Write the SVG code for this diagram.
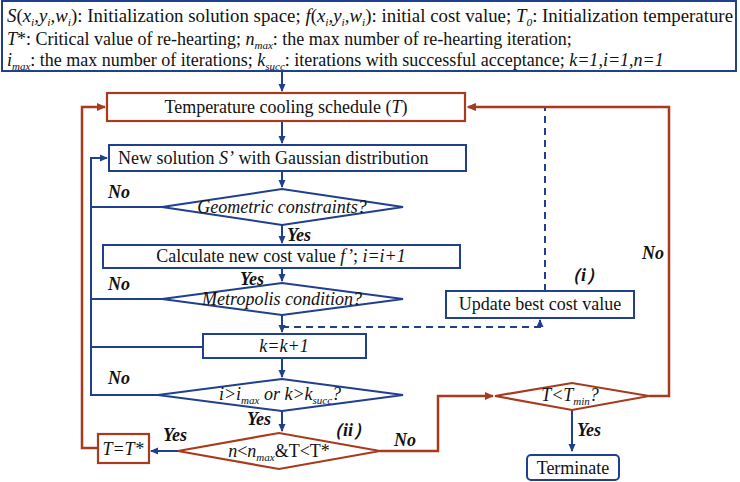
<svg xmlns="http://www.w3.org/2000/svg" width="740" height="482" viewBox="0 0 740 482">
<style>
.b{fill:#fff;stroke:#1f3f8f;stroke-width:2}
.r{fill:#fff;stroke:#a83a1e;stroke-width:2.2}
.lb{fill:none;stroke:#1f3f8f;stroke-width:2}
.lr{fill:none;stroke:#a83a1e;stroke-width:2.5}
.d{stroke-dasharray:7,5}
text{font-family:'Liberation Serif','Times New Roman','DejaVu Serif',serif;font-size:18px;fill:#111}
.c{text-anchor:middle}
.i{font-style:italic}
.lab{font-weight:bold;font-style:italic}
</style>
<defs>
<marker id="ab" markerWidth="8" markerHeight="8" refX="7" refY="4" orient="auto" markerUnits="userSpaceOnUse"><path d="M0,0.5L8,4L0,7.5z" fill="#1f3f8f"/></marker>
<marker id="ar" markerWidth="9" markerHeight="9" refX="8" refY="4.5" orient="auto" markerUnits="userSpaceOnUse"><path d="M0,0.5L9,4.5L0,8.5z" fill="#a83a1e"/></marker>
</defs>
<g id="connectors">
<path class="lb" d="M282,72V91" marker-end="url(#ab)"/>
<path class="lb" d="M282,121V143" marker-end="url(#ab)"/>
<path class="lb" d="M282,171V187" marker-end="url(#ab)"/>
<path class="lb" d="M282,225V243" marker-end="url(#ab)"/>
<path class="lb" d="M282,268V281" marker-end="url(#ab)"/>
<path class="lb" d="M282,315V332" marker-end="url(#ab)"/>
<path class="lb" d="M282,358V377" marker-end="url(#ab)"/>
<path class="lb" d="M282,411V431" marker-end="url(#ab)"/>
<path class="lb" d="M162,207H91M162,299H91M203,347H91M158,395H91V158H107" marker-end="url(#ab)"/>
<path class="lb d" d="M282,327H540V320" marker-end="url(#ab)"/>
<path class="lb d" d="M545,291V107H468" marker-end="url(#ab)"/>
<path class="lb" d="M178,451H151" marker-end="url(#ab)"/>
<path class="lr" d="M98,448H82V107H105" marker-end="url(#ar)"/>
<path class="lr" d="M380,451H438V396H493" marker-end="url(#ar)"/>
<path class="lr" d="M649,396H669V107H468" marker-end="url(#ar)"/>
<path class="lb" d="M572,410V451" marker-end="url(#ab)"/>
</g>
<g id="header"><rect class="b" x="2" y="1" width="734" height="70"/>
<text x="7" y="22" textLength="726" lengthAdjust="spacingAndGlyphs"><tspan class="i">S</tspan>(<tspan class="i">x<tspan font-size="11" dy="4">i</tspan><tspan dy="-4">,y</tspan><tspan font-size="11" dy="4">i</tspan><tspan dy="-4">,w</tspan><tspan font-size="11" dy="4">i</tspan></tspan><tspan dy="-4">): Initialization solution space; </tspan><tspan class="i">f</tspan>(<tspan class="i">x<tspan font-size="11" dy="4">i</tspan><tspan dy="-4">,y</tspan><tspan font-size="11" dy="4">i</tspan><tspan dy="-4">,w</tspan><tspan font-size="11" dy="4">i</tspan></tspan><tspan dy="-4">): initial cost value; </tspan><tspan class="i">T</tspan><tspan class="i" font-size="11" dy="4">0</tspan><tspan dy="-4">: Initialization temperature</tspan></text>
<text x="7" y="45"><tspan class="i">T</tspan>*: Critical value of re-hearting;  <tspan class="i">n</tspan><tspan class="i" font-size="11" dy="4">max</tspan><tspan dy="-4">: the max number of re-hearting iteration;</tspan></text>
<text x="7" y="66"><tspan class="i">i</tspan><tspan class="i" font-size="11" dy="4">max</tspan><tspan dy="-4">: the max number of iterations; </tspan><tspan class="i">k</tspan><tspan class="i" font-size="11" dy="4">succ</tspan><tspan dy="-4">: iterations with successful acceptance; </tspan><tspan class="i">k=1</tspan>,<tspan class="i">i=1</tspan>,<tspan class="i">n=1</tspan></text>
</g>
<g id="temp"><rect class="r" x="107" y="93" width="358" height="28"/><text class="c" x="286" y="113">Temperature cooling schedule (<tspan class="i">T</tspan>)</text></g>
<g id="newsol"><rect class="b" x="109" y="145" width="357" height="26"/><text x="118" y="164">New solution <tspan class="i">S’</tspan> with Gaussian distribution</text></g>
<g id="geo"><path class="b" d="M162,207L282,189L403,207L282,225z"/><text class="c i" x="282" y="213">Geometric constraints?</text></g>
<g id="calc"><rect class="b" x="103" y="245" width="357" height="23"/><text class="c" x="281" y="262">Calculate new cost value <tspan class="i">f’</tspan>; <tspan class="i">i=i+1</tspan></text></g>
<g id="metro"><path class="b" d="M162,299L282,283L403,299L282,315z"/><text class="c i" x="282" y="305">Metropolis condition?</text></g>
<g id="kinc"><rect class="b" x="203" y="334" width="163" height="24"/><text class="c i" x="284" y="352">k=k+1</text></g>
<g id="iter"><path class="b" d="M158,395L282,379L403,395L282,411z"/><text class="c i" x="280" y="400">i&gt;i<tspan font-size="11" dy="4">max</tspan><tspan dy="-4"> or k&gt;k</tspan><tspan font-size="11" dy="4">succ</tspan><tspan dy="-4">?</tspan></text></g>
<g id="reheat"><path class="r" d="M178,451L279,433L380,451L279,469z"/><text class="c" x="279" y="457"><tspan class="i">n</tspan>&lt;<tspan class="i">n</tspan><tspan class="i" font-size="11" dy="4">max</tspan><tspan dy="-4">&amp;T&lt;T*</tspan></text></g>
<g id="tset"><rect class="r" x="98" y="434" width="51" height="29"/><text class="c i" x="123" y="455">T=T*</text></g>
<g id="update"><rect class="b" x="446" y="291" width="188" height="27"/><text class="c" x="540" y="310">Update best cost value</text></g>
<g id="tmin"><path class="r" d="M495,396L572,383L649,396L572,410z"/><text class="c i" x="570" y="401">T&lt;T<tspan font-size="11" dy="4">min</tspan><tspan dy="-4">?</tspan></text></g>
<g id="term"><rect class="b" x="527" y="455" width="92" height="25" rx="4"/><text class="c" x="573" y="474">Terminate</text></g>
<g id="labels">
<text class="lab" x="108" y="198">No</text>
<text class="lab" x="287" y="241">Yes</text>
<text class="lab" x="240" y="285">Yes</text>
<text class="lab" x="108" y="290">No</text>
<text class="lab" x="108" y="384">No</text>
<text class="lab" x="247" y="425">Yes</text>
<text class="lab" x="163" y="441">Yes</text>
<text class="lab" x="325" y="436">（ii）</text>
<text class="lab" x="394" y="446">No</text>
<text class="lab" x="563" y="281">（i）</text>
<text class="lab" x="642" y="259">No</text>
<text class="lab" x="577" y="436">Yes</text>
</g>
</svg>
